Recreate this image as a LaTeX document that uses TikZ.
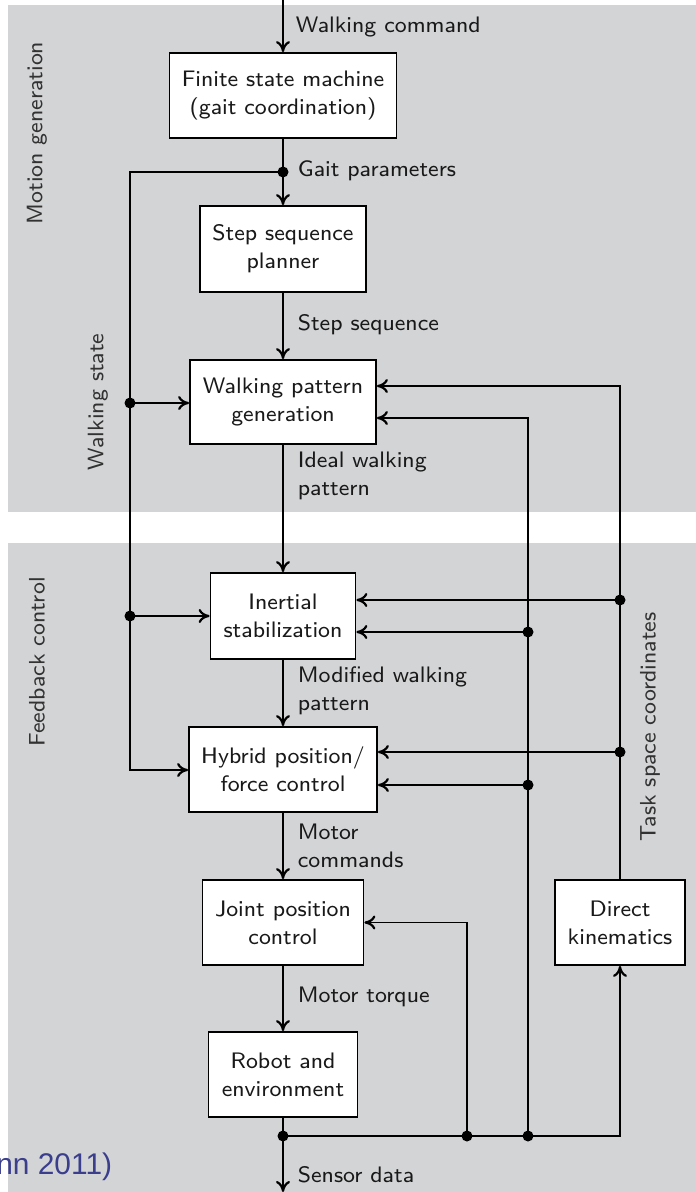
\documentclass[tikz,border=0pt]{standalone}
\usepackage{fontspec}
\newfontfamily\arialfont{Liberation Sans}
\newfontfamily\lmsseight{lmsans8-regular.otf}
\usetikzlibrary{arrows.meta}
\definecolor{bggray}{RGB}{211,212,214}
\definecolor{citeblue}{RGB}{58,62,140}
\definecolor{sidegray}{RGB}{50,50,50}
\newcommand{\txtfont}{\lmsseight\fontsize{22.5}{28}\selectfont}
\tikzset{
  blk/.style={draw, fill=white, line width=1.8bp, inner sep=0pt, align=center,
    text=black!90, font=\txtfont},
  lbl/.style={anchor=west, align=left, inner sep=0pt, text=black!90, font=\txtfont},
  side/.style={rotate=90, inner sep=0pt, text=sidegray, font=\txtfont},
  conn/.style={line width=1.8bp},
  dot/.style={fill=black},
}
\begin{document}
\begin{tikzpicture}[x=1bp,y=-1bp, >={To[length=11bp,width=14bp,line width=2.2bp]}, conn]
\useasboundingbox (0,0) rectangle (696,1192);
\fill[bggray] (8,5) rectangle (696,512);
\fill[bggray] (8,543) rectangle (696,1192);

% side labels
\node[side] (mg) at (37,133) {Motion generation};
\node[side] (fc) at (37,662) {Feedback control};
\node[side] (ws) at (98,402) {Walking state};
\node[side] (tsc) at (650,727) {Task space coordinates};

% boxes
\node[blk, minimum width=227bp, minimum height=85bp] (fsm) at (283,95.5) {Finite state machine\\(gait coordination)};
\node[blk, minimum width=166bp, minimum height=86bp] (ssp) at (283,249) {Step sequence\\planner};
\node[blk, minimum width=186bp, minimum height=84bp] (wpg) at (283,402) {Walking pattern\\generation};
\node[blk, minimum width=145bp, minimum height=86bp] (is) at (283,616) {Inertial\\stabilization};
\node[blk, minimum width=188bp, minimum height=85bp] (hp) at (283,769.5) {Hybrid position/\\force control};
\node[blk, minimum width=161bp, minimum height=85bp] (jpc) at (283,922.5) {Joint position\\control};
\node[blk, minimum width=149bp, minimum height=85bp] (re) at (283,1074.5) {Robot and\\environment};
\node[blk, minimum width=130bp, minimum height=85bp] (dk) at (620,922.5) {Direct\\kinematics};

% coordinates
\coordinate (top) at (283,0);
\coordinate (bot) at (283,1192);
\coordinate (g) at (283,172);
\coordinate (s) at (283,1136);
\coordinate (s1) at (467,1136);
\coordinate (s2) at (528,1136);
\coordinate (sk) at (620,1136);
\coordinate (c2) at (528,418);
\coordinate (c3) at (620,386);
\coordinate (d1) at (620,600);
\coordinate (d2) at (620,752);
\coordinate (e1) at (528,632);
\coordinate (e2) at (528,785);
\coordinate (l0) at (130,172);
\coordinate (l1) at (130,403);
\coordinate (l2) at (130,616);
\coordinate (l3) at (130,770);

% main chain
\draw[->] (top) -- (fsm);
\draw (fsm) -- (g);
\draw[->] (g) -- (ssp);
\draw[->] (ssp) -- (wpg);
\draw[->] (wpg) -- (is);
\draw[->] (is) -- (hp);
\draw[->] (hp) -- (jpc);
\draw[->] (jpc) -- (re);
\draw (re) -- (s);
\draw[->] (s) -- (bot);

% left feedback (walking state)
\draw[->] (g) -- (l0) -- (l3) -- (l3 -| hp.west);
\draw[->] (l1) -- (l1 -| wpg.west);
\draw[->] (l2) -- (l2 -| is.west);

% sensor feedback
\draw[->] (s) -- (sk) -- (dk);
\draw[->] (s1) |- (jpc);
\draw[->] (s2) -- (c2) -- (c2 -| wpg.east);
\draw[->] (dk) -- (c3) -- (c3 -| wpg.east);
\draw[->] (d1) -- (d1 -| is.east);
\draw[->] (d2) -- (d2 -| hp.east);
\draw[->] (e1) -- (e1 -| is.east);
\draw[->] (e2) -- (e2 -| hp.east);

% dots
\foreach \p in {g,s,s1,s2,d1,d2,e1,e2,l1,l2}
  \fill[dot] (\p) circle (5.5bp);

% labels
\node[lbl] (lwc) at (295,27) {Walking command};
\node[lbl] (lgp) at (297,171) {Gait parameters};
\node[lbl] (lss) at (297,325) {Step sequence};
\node[lbl] (liw) at (297,476) {Ideal walking\\pattern};
\node[lbl] (lmw) at (297,691) {Modified walking\\pattern};
\node[lbl] (lmc) at (297,846) {Motor\\commands};
\node[lbl] (lmt) at (297,997) {Motor torque};
\node[lbl] (lsd) at (297,1175) {Sensor data};

% citation fragment
\node[anchor=base east, inner sep=0pt, text=citeblue, font=\arialfont\fontsize{30}{34}\selectfont] (cite) at (113,1174) {nn 2011)};
\end{tikzpicture}
\end{document}
